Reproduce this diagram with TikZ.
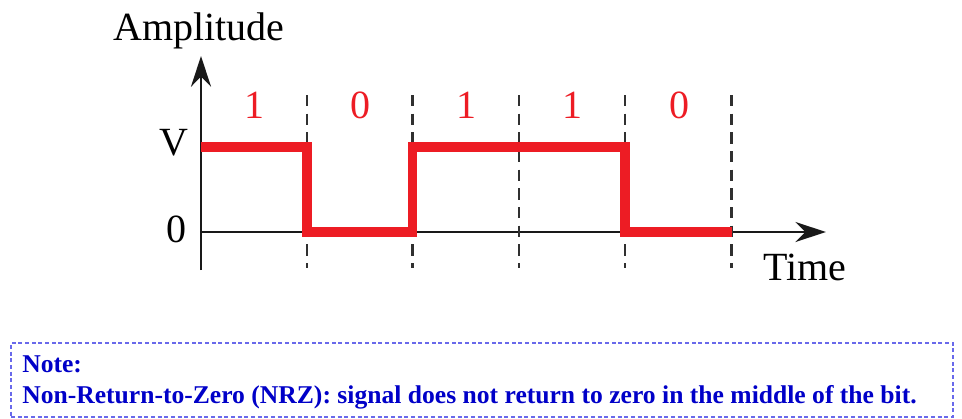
\documentclass[tikz,border=0pt]{standalone}
\usepackage{fontspec}
\setmainfont{Liberation Serif}
\usetikzlibrary{arrows.meta}
\definecolor{sigred}{RGB}{237,28,36}
\definecolor{notetext}{RGB}{0,0,200}
\definecolor{noteframe}{RGB}{105,105,235}
\definecolor{axisgray}{RGB}{25,25,25}
\begin{document}
\begin{tikzpicture}[x=0.75pt,y=-0.75pt,
 axis/.style={line width=2.1pt, draw=axisgray, -{Stealth[length=23pt,width=15pt]}},
 bitsep/.style={line width=1.9pt, draw=axisgray!90, dash pattern=on 8.5pt off 5.5pt},
 signal/.style={line width=6.8pt, draw=sigred, line join=miter},
 axlabel/.style={font=\fontsize{30}{36}\selectfont, inner sep=0pt},
 bitlabel/.style={font=\fontsize{30}{36}\selectfont, text=sigred, inner sep=0pt, anchor=base},
 noteframestyle/.style={draw=noteframe, line width=1.3pt, dash pattern=on 3pt off 2pt, inner sep=0pt},
 notetxt/.style={font=\fontsize{19.2}{23}\selectfont\bfseries, text=notetext, inner sep=0pt, anchor=base west}]
\useasboundingbox (0,0) rectangle (962,418);
% axes
\coordinate (orig) at (201,232);
\coordinate (ybot) at (201,270);
\coordinate (ytip) at (201,56);
\coordinate (xtip) at (826,232);
\draw[axis] (ybot) -- (ytip);
\draw[axis] (orig) -- (xtip);
% bit boundaries
\foreach \x in {307,412.5,519,625,731.5} \draw[bitsep] (\x,95) -- (\x,268);
% signal
\draw[signal] (201,147) -| (307,232) -| (412.5,147) -| (625,232) -- (731.5,232);
% labels
\node[axlabel, anchor=base west] (amp) at (113,40) {Amplitude};
\node[axlabel, anchor=base west] (time) at (763,280) {Time};
\node[axlabel, anchor=base] (vlab) at (173.5,155) {V};
\node[axlabel, anchor=base] (zlab) at (176,242.5) {0};
\node[bitlabel] (b1) at (254,118) {1};
\node[bitlabel] (b2) at (360,118) {0};
\node[bitlabel] (b3) at (466,118) {1};
\node[bitlabel] (b4) at (572,118) {1};
\node[bitlabel] (b5) at (679,118) {0};
% note
\node[noteframestyle, anchor=north west, minimum width=706.5pt, minimum height=55.5pt] (notebox) at (10,342) {};
\node[notetxt] (note1) at (22,372.5) {Note:};
\node[notetxt] (note2) at (22,403) {Non-Return-to-Zero (NRZ): signal does not return to zero in the middle of the bit.};
\end{tikzpicture}
\end{document}
